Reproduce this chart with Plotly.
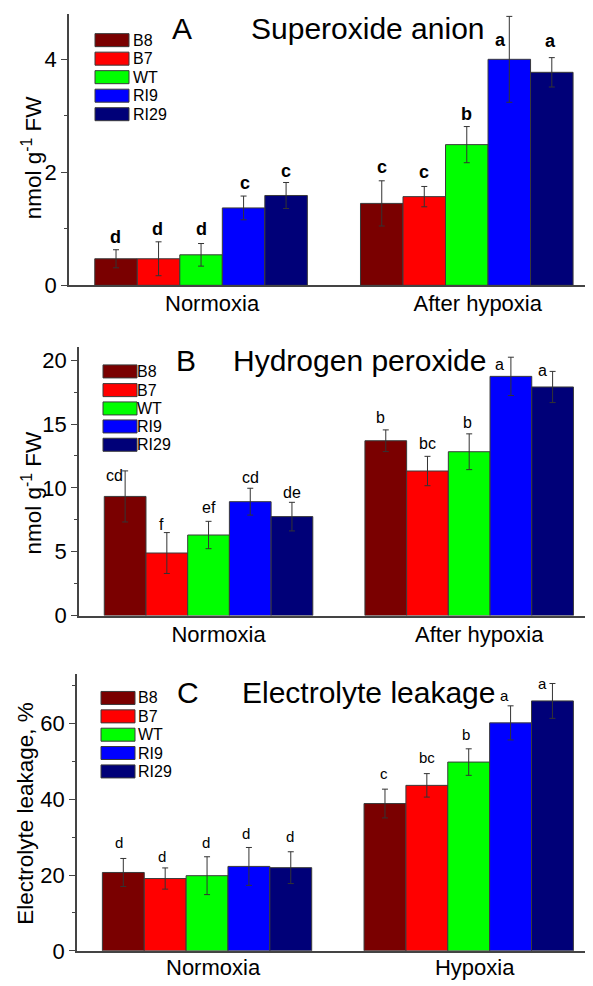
import plotly.graph_objects as go

# ---------------- data ----------------
GENOTYPES = ["B8", "B7", "WT", "RI9", "RI29"]
COLORS = ["#7a0000", "#ff0000", "#00ff00", "#0000ff", "#000078"]

GROUPS_A = ["Normoxia", "After hypoxia"]
GROUPS_B = ["Normoxia", "After hypoxia"]
GROUPS_C = ["Normoxia", "Hypoxia"]

# Panel A: superoxide anion (nmol g-1 FW); [normoxia, after hypoxia]
A_B8 = [0.47, 1.45]
A_B7 = [0.47, 1.57]
A_WT = [0.54, 2.49]
A_RI9 = [1.37, 4.00]
A_RI29 = [1.59, 3.77]
A_ERR_B8 = [0.16, 0.40]
A_ERR_B7 = [0.30, 0.18]
A_ERR_WT = [0.20, 0.32]
A_ERR_RI9 = [0.21, 0.76]
A_ERR_RI29 = [0.23, 0.26]
A_LET_B8 = ["d", "c"]
A_LET_B7 = ["d", "c"]
A_LET_WT = ["d", "b"]
A_LET_RI9 = ["c", "a"]
A_LET_RI29 = ["c", "a"]

# Panel B: hydrogen peroxide (nmol g-1 FW)
B_B8 = [9.33, 13.69]
B_B7 = [4.90, 11.32]
B_WT = [6.31, 12.83]
B_RI9 = [8.92, 18.73]
B_RI29 = [7.75, 17.90]
B_ERR_B8 = [2.0, 0.85]
B_ERR_B7 = [1.6, 1.15]
B_ERR_WT = [1.07, 1.40]
B_ERR_RI9 = [1.05, 1.50]
B_ERR_RI29 = [1.12, 1.22]
B_LET_B8 = ["cd", "b"]
B_LET_B7 = ["f", "bc"]
B_LET_WT = ["ef", "b"]
B_LET_RI9 = ["cd", "a"]
B_LET_RI29 = ["de", "a"]

# Panel C: electrolyte leakage (%)
C_B8 = [20.7, 38.9]
C_B7 = [19.1, 43.7]
C_WT = [19.85, 49.85]
C_RI9 = [22.3, 60.2]
C_RI29 = [21.97, 66.0]
C_ERR_B8 = [3.7, 3.8]
C_ERR_B7 = [2.8, 3.1]
C_ERR_WT = [5.0, 3.5]
C_ERR_RI9 = [5.0, 4.5]
C_ERR_RI29 = [4.2, 4.6]
C_LET_B8 = ["d", "c"]
C_LET_B7 = ["d", "bc"]
C_LET_WT = ["d", "b"]
C_LET_RI9 = ["d", "a"]
C_LET_RI29 = ["d", "a"]

# ---------------- style / layout helpers ----------------
PAGE_W = 593
BODY_MARGIN = 8                       # default page margin around the plot div
VSCALE = 0.986                        # observed vertical scale of the photograph
W_FIG = PAGE_W - BODY_MARGIN          # 585
H_FIG = round(986 / VSCALE) - 2 * BODY_MARGIN
FONT = "Arial, Liberation Sans, sans-serif"
AXC = "#444444"
BAR_W = 0.16


def px(x):
    """target pixel x -> paper x"""
    return (x - BODY_MARGIN) / W_FIG


def py(y):
    """target pixel y -> paper y"""
    return 1 - (y / VSCALE - BODY_MARGIN) / H_FIG


panels = [
    dict(
        means=[A_B8, A_B7, A_WT, A_RI9, A_RI29],
        errs=[A_ERR_B8, A_ERR_B7, A_ERR_WT, A_ERR_RI9, A_ERR_RI29],
        lets=[A_LET_B8, A_LET_B7, A_LET_WT, A_LET_RI9, A_LET_RI29],
        groups=GROUPS_A, yrange=[0, 4.8], dtick=2, minor=1,
        left=69, top=14, bottom=285, shift=11, standoff=-2,
        letfont=dict(size=18, family=FONT, color="black", weight="bold"),
        # per-letter pixel tweaks [genotype][group]: dx, baseline gap above error-bar top
        dx=[[-1, 0], [-1, 0], [0, 0], [1, -9], [0, -1]],
        gap=[[6, 7], [6, 7], [7, 6], [6, -31], [4, 10]],
        title_letter="A", title="Superoxide anion",
        tl_x=170, tt_x=249, t_y=28,
        ytitle="nmol g<sup>-1</sup> FW", yt_x=32, yt_y=157,
        leg_x=95, leg_tx=131, leg_y=[40, 58.5, 77, 95.5, 114],
    ),
    dict(
        means=[B_B8, B_B7, B_WT, B_RI9, B_RI29],
        errs=[B_ERR_B8, B_ERR_B7, B_ERR_WT, B_ERR_RI9, B_ERR_RI29],
        lets=[B_LET_B8, B_LET_B7, B_LET_WT, B_LET_RI9, B_LET_RI29],
        groups=GROUPS_B, yrange=[0, 21], dtick=5, minor=2.5,
        left=79, top=347, bottom=615, shift=10, standoff=-2,
        letfont=dict(size=16, family=FONT, color="black"),
        dx=[[-11, -5], [-5, 0], [0, -2], [0, -11], [0, -10]],
        gap=[[-11, 6], [2, 7], [8, 5], [5, -13], [4, -5]],
        title_letter="B", title="Hydrogen peroxide",
        tl_x=174, tt_x=231, t_y=360,
        ytitle="nmol g<sup>-1</sup> FW", yt_x=32, yt_y=492,
        leg_x=103, leg_tx=135, leg_y=[371, 389.7, 408, 426, 444.3],
    ),
    dict(
        means=[C_B8, C_B7, C_WT, C_RI9, C_RI29],
        errs=[C_ERR_B8, C_ERR_B7, C_ERR_WT, C_ERR_RI9, C_ERR_RI29],
        lets=[C_LET_B8, C_LET_B7, C_LET_WT, C_LET_RI9, C_LET_RI29],
        groups=GROUPS_C, yrange=[0, 73.2], dtick=20, minor=10,
        left=77, top=673, bottom=950, shift=6, standoff=-4,
        letfont=dict(size=15, family=FONT, color="black"),
        dx=[[-4, -1], [-3, 0], [-1, -3], [-3, -6], [-1, -10]],
        gap=[[10, 9], [5, 10], [8, 8], [8, 4], [9, -6]],
        title_letter="C", title="Electrolyte leakage",
        tl_x=175, tt_x=240, t_y=692,
        ytitle="Electrolyte leakage, %", yt_x=26, yt_y=813,
        leg_x=101, leg_tx=136, leg_y=[697.3, 715.7, 734, 752.3, 770.7],
    ),
]

fig = go.Figure()
annotations = []
shapes = []

for k, p in enumerate(panels):
    sfx = "" if k == 0 else str(k + 1)
    xa, ya = "x" + sfx, "y" + sfx
    for i, g in enumerate(GENOTYPES):
        off = -0.4 + BAR_W * i
        fig.add_trace(go.Bar(
            x=[0, 1], y=p["means"][i], width=BAR_W, offset=off,
            marker=dict(color=COLORS[i], line=dict(color="#3a3a3a", width=1)),
            error_y=dict(type="data", array=p["errs"][i], color="#333333",
                         thickness=1, width=3),
            xaxis=xa, yaxis=ya, showlegend=False, name=g,
        ))
        for j in range(2):
            size = p["letfont"]["size"]
            annotations.append(dict(
                x=j + off + BAR_W / 2, y=p["means"][i][j] + p["errs"][i][j],
                xref=xa, yref=ya, text=p["lets"][i][j], showarrow=False,
                xanchor="center", yanchor="bottom",
                xshift=p["dx"][i][j],
                yshift=p["gap"][i][j] - 0.22 * size - 1,
                font=p["letfont"],
            ))
    # axes
    fig.layout["xaxis" + sfx] = dict(
        domain=[px(p["left"]), 1], range=[-0.497, 1.475], anchor=ya,
        tickvals=[0, 1], ticktext=p["groups"], ticks="", showgrid=False,
        zeroline=False, showline=True, linecolor=AXC, linewidth=1.5,
        tickfont=dict(size=22, family=FONT, color="black"),
        ticklabelshift=p["shift"], ticklabelstandoff=p["standoff"],
    )
    fig.layout["yaxis" + sfx] = dict(
        domain=[py(p["bottom"]), py(p["top"])], range=p["yrange"], anchor=xa,
        dtick=p["dtick"], tick0=0, ticks="outside", ticklen=6, tickwidth=1,
        tickcolor=AXC, showgrid=False, zeroline=False, showline=True,
        linecolor=AXC, linewidth=1.5,
        tickfont=dict(size=22, family=FONT, color="black"),
        minor=dict(dtick=p["minor"], tick0=0, ticks="outside", ticklen=3,
                   tickcolor=AXC, tickwidth=1, showgrid=False),
    )
    # titles
    annotations.append(dict(x=px(p["tl_x"]), y=py(p["t_y"]), xref="paper", yref="paper",
                            text=p["title_letter"], showarrow=False, xanchor="left",
                            yanchor="middle", font=dict(size=30, family=FONT, color="black")))
    annotations.append(dict(x=px(p["tt_x"]), y=py(p["t_y"]), xref="paper", yref="paper",
                            text=p["title"], showarrow=False, xanchor="left",
                            yanchor="middle", font=dict(size=30, family=FONT, color="black")))
    annotations.append(dict(x=px(p["yt_x"]), y=py(p["yt_y"]), xref="paper", yref="paper",
                            text=p["ytitle"], showarrow=False, textangle=-90,
                            xanchor="center", yanchor="middle",
                            font=dict(size=22.5, family=FONT, color="black")))
    # legend (drawn manually: swatch + label)
    for i, g in enumerate(GENOTYPES):
        yc = p["leg_y"][i]
        shapes.append(dict(type="rect", xref="paper", yref="paper",
                           x0=px(p["leg_x"]), x1=px(p["leg_x"] + 34),
                           y0=py(yc - 6.5), y1=py(yc + 6.5),
                           fillcolor=COLORS[i], line=dict(color="#3a3a3a", width=1)))
        annotations.append(dict(x=px(p["leg_tx"]), y=py(yc), xref="paper", yref="paper",
                                text=g, showarrow=False, xanchor="left", yanchor="middle",
                                font=dict(size=16, family=FONT, color="black")))

fig.update_layout(
    width=W_FIG, height=H_FIG, autosize=False,
    margin=dict(l=0, r=0, t=0, b=0),
    paper_bgcolor="white", plot_bgcolor="white",
    barmode="overlay", showlegend=False,
    annotations=annotations, shapes=shapes,
    font=dict(family=FONT, color="black"),
)

fig.write_html("out.html")
